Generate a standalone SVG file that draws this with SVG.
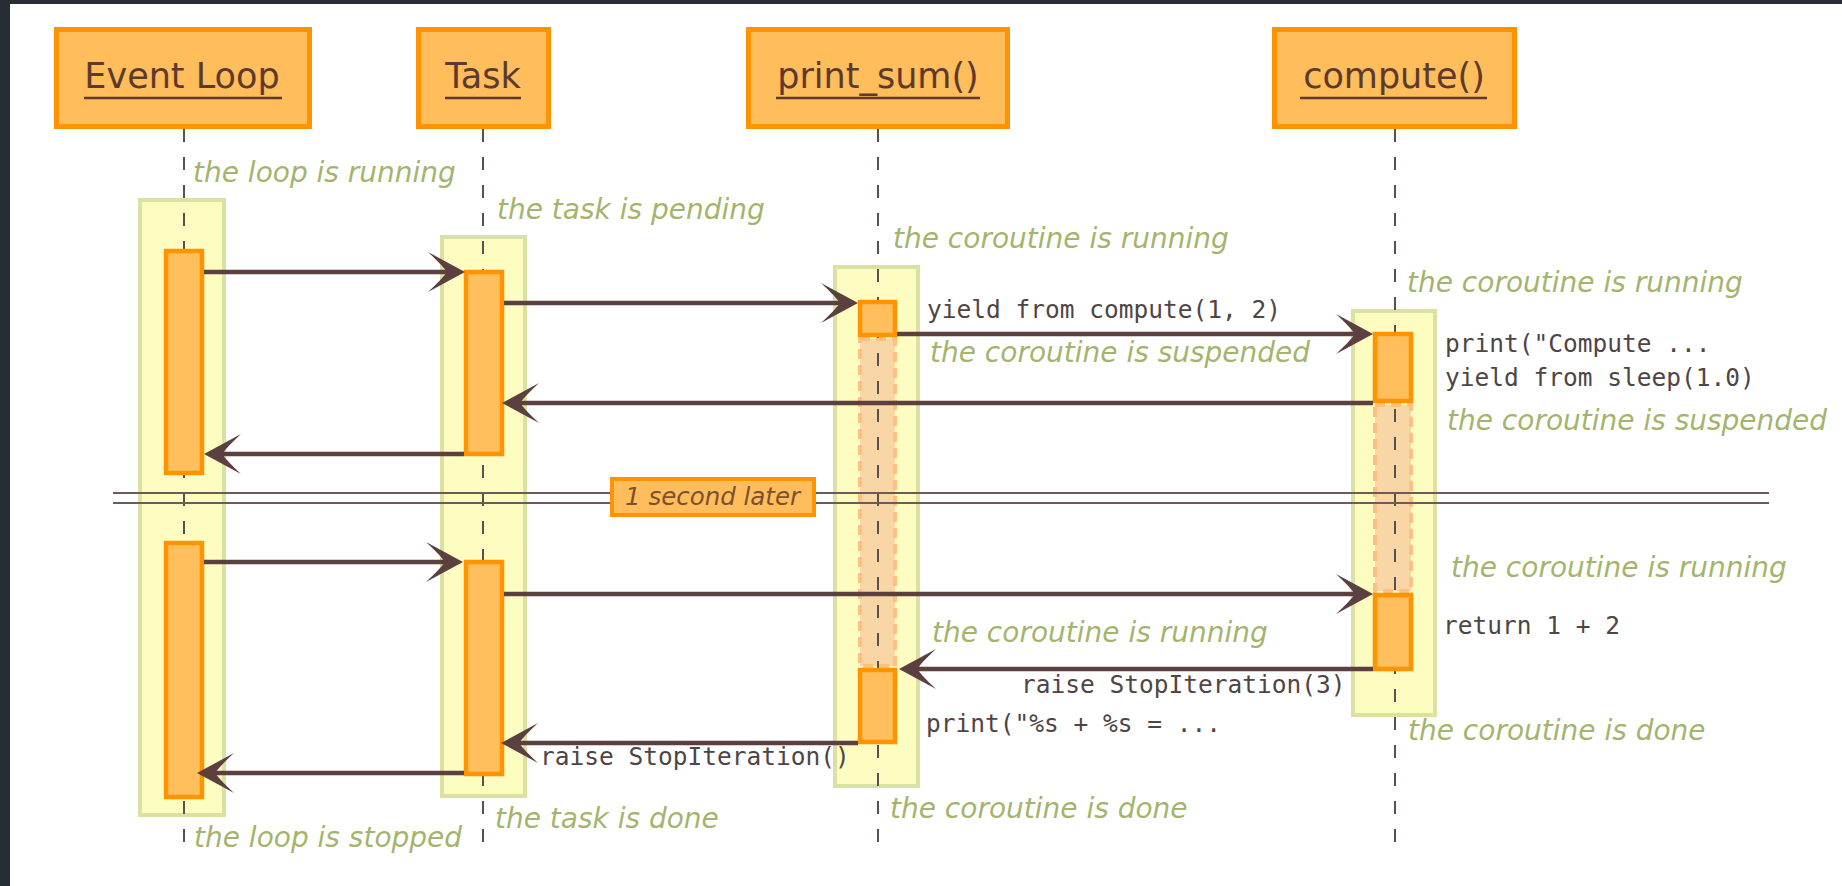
<svg xmlns="http://www.w3.org/2000/svg" width="1842" height="886" viewBox="0 0 1842 886">
<style>
.pbox{fill:#ffbd5b;stroke:#ff9300;stroke-width:5}
.ptxt{font-family:"DejaVu Sans",sans-serif;font-size:35px;fill:#5c3a2e;text-anchor:middle}
.uline{stroke:#5c3a2e;stroke-width:2.6}
.life{stroke:#5a4f4f;stroke-width:2;stroke-dasharray:13 15;fill:none}
.state{fill:#fdfdc2;stroke:#dae2a3;stroke-width:4}
.act{fill:#ffbf5d;stroke:#ff9300;stroke-width:4.5}
.susp{fill:#f9d6a6;stroke:#ffbf80;stroke-width:4;stroke-dasharray:10 6}
.note{font-family:"DejaVu Sans",sans-serif;font-style:italic;font-size:28px;fill:#a5b46c}
.code{font-family:"DejaVu Sans Mono",monospace;font-size:24.5px;fill:#4f4545}
.msg{stroke:#5c3f3f;stroke-width:4.5;fill:none;marker-end:url(#ah)}
.sep{stroke:#6e5a5a;stroke-width:2}
</style>
<defs>
<marker id="ah" markerUnits="userSpaceOnUse" markerWidth="40" markerHeight="42" refX="19" refY="20" orient="auto" overflow="visible">
<path d="M37,20 L0,0 Q14,13 19,20 Q14,27 0,40 Z" fill="#5c3f3f"/>
</marker>
</defs>
<rect x="0" y="0" width="1842" height="886" fill="#282c34"/>
<rect x="10" y="4" width="1832" height="882" fill="#ffffff"/>

<g id="state-boxes">
<rect class="state" x="140" y="200" width="84" height="615"/>
<rect class="state" x="442" y="237" width="83" height="559"/>
<rect class="state" x="835" y="267" width="83" height="519"/>
<rect class="state" x="1353" y="311" width="82" height="404"/>
</g>
<g id="suspended">
<rect class="susp" x="860" y="339" width="35" height="327"/>
<rect class="susp" x="1375" y="405" width="36" height="186"/>
</g>

<g id="lifelines">
<line class="life" x1="184" y1="129" x2="184" y2="857"/>
<line class="life" x1="483" y1="129" x2="483" y2="857"/>
<line class="life" x1="878" y1="129" x2="878" y2="857"/>
<line class="life" x1="1395" y1="129" x2="1395" y2="857"/>
</g>

<g id="event-loop">
<rect class="pbox" x="56.5" y="29.5" width="253" height="97"/>
<text class="ptxt" x="182" y="88">Event Loop</text>
<line class="uline" x1="84" y1="98" x2="282" y2="98"/>
<rect class="act" x="166" y="251" width="36" height="222"/>
<rect class="act" x="166" y="543" width="36" height="254"/>
</g>
<g id="task">
<rect class="pbox" x="418.5" y="29.5" width="130" height="97"/>
<text class="ptxt" x="483" y="88">Task</text>
<line class="uline" x1="445" y1="98" x2="521" y2="98"/>
<rect class="act" x="466" y="272" width="36" height="182"/>
<rect class="act" x="466" y="562" width="36" height="212"/>
</g>
<g id="print-sum">
<rect class="pbox" x="748.5" y="29.5" width="259" height="97"/>
<text class="ptxt" x="878" y="88">print_sum()</text>
<line class="uline" x1="776" y1="98" x2="980" y2="98"/>
<rect class="act" x="860" y="302" width="35" height="33"/>
<rect class="act" x="860" y="670" width="35" height="72"/>
</g>
<g id="compute">
<rect class="pbox" x="1274.5" y="29.5" width="240" height="97"/>
<text class="ptxt" x="1394" y="88">compute()</text>
<line class="uline" x1="1300" y1="98" x2="1487" y2="98"/>
<rect class="act" x="1375" y="334" width="36" height="67"/>
<rect class="act" x="1375" y="595" width="36" height="74"/>
</g>

<g id="separator">
<line class="sep" x1="113" y1="493" x2="1769" y2="493"/>
<line class="sep" x1="113" y1="503" x2="1769" y2="503"/>
<rect x="612" y="479" width="202" height="36" fill="#ffbd5b" stroke="#ff9300" stroke-width="4"/>
<text x="625" y="505" font-family="DejaVu Sans, sans-serif" font-style="italic" font-size="24.5" fill="#7d5030">1 second later</text>
</g>

<g id="connectors">
<line class="msg" x1="204" y1="272" x2="447" y2="272"/>
<line class="msg" x1="504" y1="303" x2="840" y2="303"/>
<line class="msg" x1="897" y1="334" x2="1355" y2="334"/>
<line class="msg" x1="1373" y1="403" x2="520" y2="403"/>
<line class="msg" x1="464" y1="454" x2="222" y2="454"/>
<line class="msg" x1="204" y1="562" x2="445" y2="562"/>
<line class="msg" x1="504" y1="594" x2="1355" y2="594"/>
<line class="msg" x1="1373" y1="669" x2="917" y2="669"/>
<line class="msg" x1="858" y1="743" x2="519" y2="743"/>
<line class="msg" x1="464" y1="773" x2="215" y2="773"/>
</g>

<g id="labels">
<text class="note" x="193" y="182">the loop is running</text>
<text class="note" x="497" y="219">the task is pending</text>
<text class="note" x="893" y="248">the coroutine is running</text>
<text class="note" x="1407" y="292">the coroutine is running</text>
<text class="code" x="927" y="318">yield from compute(1, 2)</text>
<text class="note" x="930" y="362">the coroutine is suspended</text>
<text class="code" x="1445" y="352">print("Compute ...</text>
<text class="code" x="1445" y="386">yield from sleep(1.0)</text>
<text class="note" x="1447" y="430">the coroutine is suspended</text>
<text class="note" x="1451" y="577">the coroutine is running</text>
<text class="code" x="1443" y="634">return 1 + 2</text>
<text class="note" x="932" y="642">the coroutine is running</text>
<text class="code" x="1021" y="693">raise StopIteration(3)</text>
<text class="code" x="926" y="732">print("%s + %s = ...</text>
<text class="code" x="540" y="765">raise StopIteration()</text>
<text class="note" x="1408" y="740">the coroutine is done</text>
<text class="note" x="890" y="818">the coroutine is done</text>
<text class="note" x="495" y="828">the task is done</text>
<text class="note" x="194" y="847">the loop is stopped</text>
</g>
</svg>
